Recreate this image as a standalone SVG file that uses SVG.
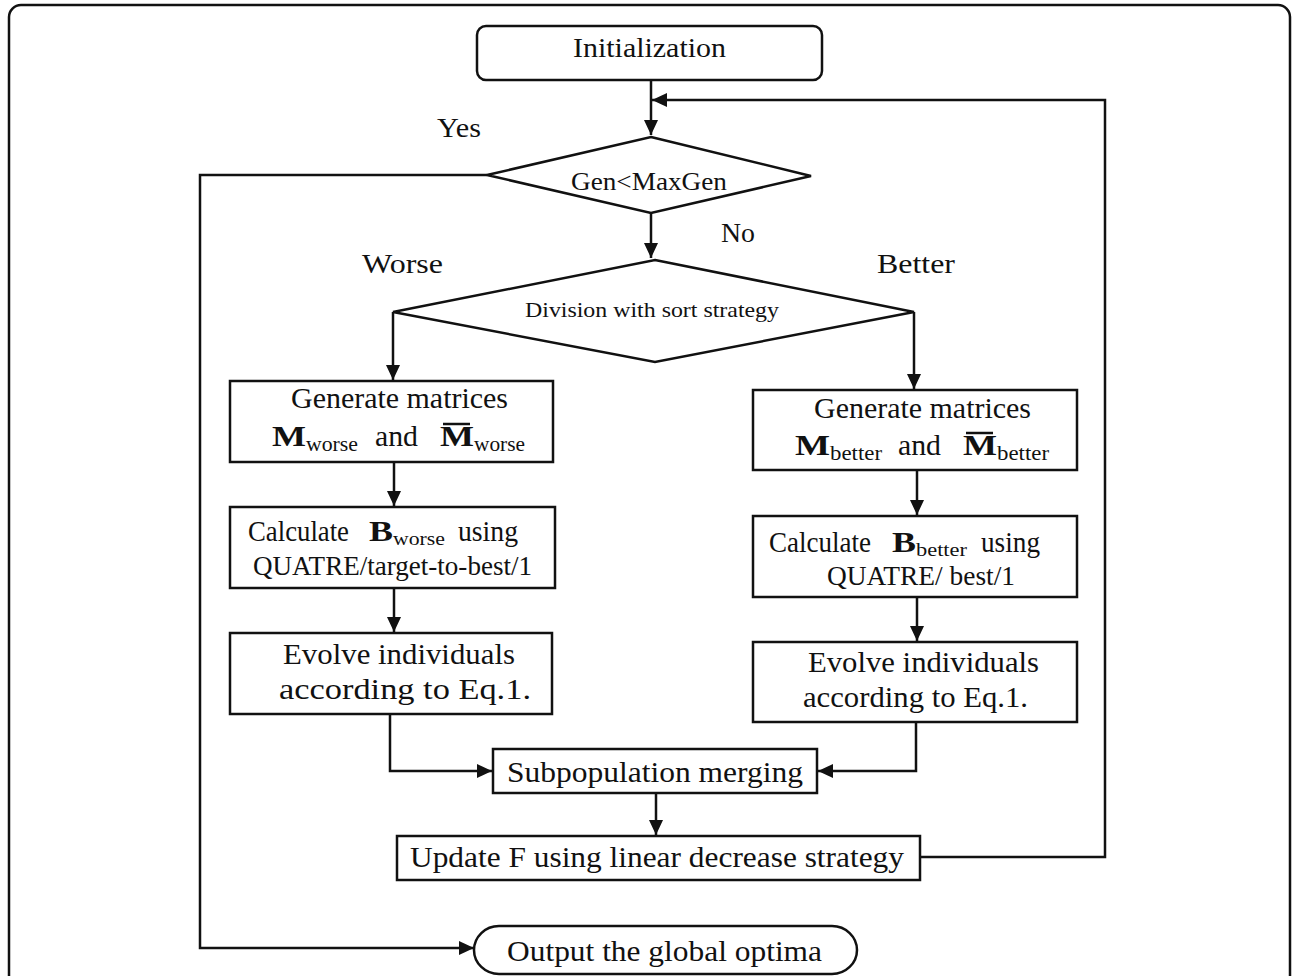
<svg xmlns="http://www.w3.org/2000/svg" width="1292" height="976" viewBox="0 0 1292 976">
<style>
.box{fill:#fff;stroke:#111;stroke-width:2.5}
.ln{fill:none;stroke:#111;stroke-width:2.5}
.t{font-family:"Liberation Serif","Times New Roman",serif;fill:#111}
.b{font-weight:bold}
</style>
<defs>
<marker id="ah" markerUnits="userSpaceOnUse" markerWidth="16" markerHeight="16" refX="15" refY="8" orient="auto">
<path d="M0,1 L15,8 L0,15 Z" fill="#111"/>
</marker>
</defs>
<rect x="0" y="0" width="1292" height="976" fill="#fff"/>
<rect x="9" y="5" width="1281" height="1000" rx="12" class="ln" stroke-width="2"/>

<g id="init">
<rect x="477" y="26" width="345" height="54" rx="9" class="box"/>
<text class="t" x="573" y="57" font-size="28" textLength="153" lengthAdjust="spacingAndGlyphs">Initialization</text>
</g>

<g id="cond">
<polygon points="651,137 811,176 651,213 487,175" class="box"/>
<text class="t" x="571" y="190" font-size="26" textLength="156" lengthAdjust="spacingAndGlyphs">Gen&lt;MaxGen</text>
</g>

<g id="division">
<polygon points="655,260 914,312 655,362 393,312" class="box"/>
<text class="t" x="525" y="317" font-size="21" textLength="254" lengthAdjust="spacingAndGlyphs">Division with sort strategy</text>
</g>

<g id="genW">
<rect x="230" y="381" width="323" height="81" class="box"/>
<text class="t" x="291" y="408" font-size="29" textLength="217" lengthAdjust="spacingAndGlyphs">Generate matrices</text>
<text class="t b" x="272" y="446" font-size="29" textLength="34" lengthAdjust="spacingAndGlyphs">M</text>
<text class="t" x="306" y="451" font-size="21" textLength="52" lengthAdjust="spacingAndGlyphs">worse</text>
<text class="t" x="375" y="446" font-size="29" textLength="43" lengthAdjust="spacingAndGlyphs">and</text>
<text class="t b" x="440" y="446" font-size="29" textLength="34" lengthAdjust="spacingAndGlyphs">M</text>
<line x1="443" y1="424" x2="470" y2="424" stroke="#111" stroke-width="2.5"/>
<text class="t" x="474" y="451" font-size="21" textLength="51" lengthAdjust="spacingAndGlyphs">worse</text>
</g>

<g id="calcW">
<rect x="230" y="507" width="325" height="81" class="box"/>
<text class="t" x="248" y="541" font-size="29" textLength="101" lengthAdjust="spacingAndGlyphs">Calculate</text>
<text class="t b" x="369" y="541" font-size="29" textLength="24" lengthAdjust="spacingAndGlyphs">B</text>
<text class="t" x="393" y="545" font-size="19" textLength="52" lengthAdjust="spacingAndGlyphs">worse</text>
<text class="t" x="458" y="541" font-size="29" textLength="60" lengthAdjust="spacingAndGlyphs">using</text>
<text class="t" x="253" y="575" font-size="28" textLength="279" lengthAdjust="spacingAndGlyphs">QUATRE/target-to-best/1</text>
</g>

<g id="evolveW">
<rect x="230" y="633" width="322" height="81" class="box"/>
<text class="t" x="283" y="664" font-size="29" textLength="232" lengthAdjust="spacingAndGlyphs">Evolve individuals</text>
<text class="t" x="279" y="699" font-size="29" textLength="252" lengthAdjust="spacingAndGlyphs">according to Eq.1.</text>
</g>

<g id="genB">
<rect x="753" y="390" width="324" height="80" class="box"/>
<text class="t" x="814" y="418" font-size="29" textLength="217" lengthAdjust="spacingAndGlyphs">Generate matrices</text>
<text class="t b" x="795" y="455" font-size="29" textLength="35" lengthAdjust="spacingAndGlyphs">M</text>
<text class="t" x="830" y="460" font-size="21" textLength="52" lengthAdjust="spacingAndGlyphs">better</text>
<text class="t" x="898" y="455" font-size="29" textLength="43" lengthAdjust="spacingAndGlyphs">and</text>
<text class="t b" x="963" y="455" font-size="29" textLength="34" lengthAdjust="spacingAndGlyphs">M</text>
<line x1="966" y1="433" x2="993" y2="433" stroke="#111" stroke-width="2.5"/>
<text class="t" x="997" y="460" font-size="21" textLength="52" lengthAdjust="spacingAndGlyphs">better</text>
</g>

<g id="calcB">
<rect x="753" y="516" width="324" height="81" class="box"/>
<text class="t" x="769" y="552" font-size="29" textLength="102" lengthAdjust="spacingAndGlyphs">Calculate</text>
<text class="t b" x="892" y="552" font-size="29" textLength="24" lengthAdjust="spacingAndGlyphs">B</text>
<text class="t" x="916" y="556" font-size="19" textLength="51" lengthAdjust="spacingAndGlyphs">better</text>
<text class="t" x="981" y="552" font-size="29" textLength="59" lengthAdjust="spacingAndGlyphs">using</text>
<text class="t" x="827" y="585" font-size="28" textLength="188" lengthAdjust="spacingAndGlyphs">QUATRE/ best/1</text>
</g>

<g id="evolveB">
<rect x="753" y="642" width="324" height="80" class="box"/>
<text class="t" x="808" y="672" font-size="29" textLength="231" lengthAdjust="spacingAndGlyphs">Evolve individuals</text>
<text class="t" x="803" y="707" font-size="29" textLength="225" lengthAdjust="spacingAndGlyphs">according to Eq.1.</text>
</g>

<g id="merge">
<rect x="493" y="749" width="324" height="44" class="box"/>
<text class="t" x="507" y="782" font-size="29" textLength="296" lengthAdjust="spacingAndGlyphs">Subpopulation merging</text>
</g>

<g id="update">
<rect x="397" y="836" width="523" height="44" class="box"/>
<text class="t" x="410" y="867" font-size="29" textLength="494" lengthAdjust="spacingAndGlyphs">Update F using linear decrease strategy</text>
</g>

<g id="output">
<path d="M499,926 H832 A25,24 0 0 1 832,974 H499 A25,24 0 0 1 499,926 Z" class="box"/>
<text class="t" x="507" y="961" font-size="29" textLength="315" lengthAdjust="spacingAndGlyphs">Output the global optima</text>
</g>

<g id="labels">
<text class="t" x="437" y="137" font-size="27" textLength="44" lengthAdjust="spacingAndGlyphs">Yes</text>
<text class="t" x="721" y="242" font-size="27" textLength="34" lengthAdjust="spacingAndGlyphs">No</text>
<text class="t" x="362" y="273" font-size="28" textLength="81" lengthAdjust="spacingAndGlyphs">Worse</text>
<text class="t" x="877" y="273" font-size="28" textLength="78" lengthAdjust="spacingAndGlyphs">Better</text>
</g>

<g id="connectors">
<line x1="651" y1="80" x2="651" y2="135" class="ln" marker-end="url(#ah)"/>
<polyline points="920,857 1105,857 1105,100 652,100" class="ln" marker-end="url(#ah)"/>
<line x1="651" y1="213" x2="651" y2="258" class="ln" marker-end="url(#ah)"/>
<polyline points="487,175 200,175 200,948 474,948" class="ln" marker-end="url(#ah)"/>
<polyline points="393,312 393,380" class="ln" marker-end="url(#ah)"/>
<polyline points="914,312 914,389" class="ln" marker-end="url(#ah)"/>
<line x1="394" y1="462" x2="394" y2="506" class="ln" marker-end="url(#ah)"/>
<line x1="394" y1="588" x2="394" y2="632" class="ln" marker-end="url(#ah)"/>
<line x1="917" y1="470" x2="917" y2="515" class="ln" marker-end="url(#ah)"/>
<line x1="917" y1="597" x2="917" y2="641" class="ln" marker-end="url(#ah)"/>
<polyline points="390,714 390,771 492,771" class="ln" marker-end="url(#ah)"/>
<polyline points="916,722 916,771 818,771" class="ln" marker-end="url(#ah)"/>
<line x1="656" y1="793" x2="656" y2="835" class="ln" marker-end="url(#ah)"/>
</g>
</svg>
